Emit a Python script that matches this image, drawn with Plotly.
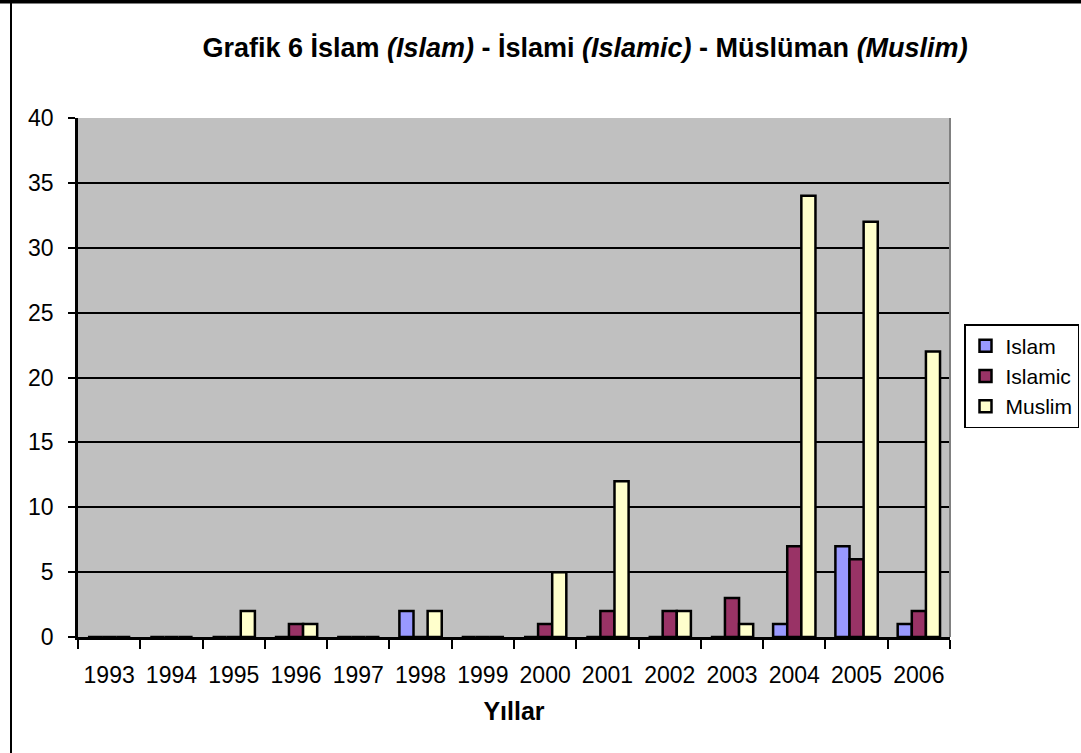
import plotly.graph_objects as go

years = ['1993', '1994', '1995', '1996', '1997', '1998', '1999',
         '2000', '2001', '2002', '2003', '2004', '2005', '2006']
islam = [0, 0, 0, 0, 0, 2, 0, 0, 0, 0, 0, 1, 7, 1]
islamic = [0, 0, 0, 1, 0, 0, 0, 1, 2, 2, 3, 7, 6, 2]
muslim = [0, 0, 2, 1, 0, 2, 0, 5, 12, 2, 1, 34, 32, 22]

W, H = 1081, 753
L, R, T, B = 78, 950, 118, 637


def px(x):
    return (x - L) / (R - L)


def py(y):
    return (B - y) / (B - T)


fig = go.Figure()
for name, vals, col in [('Islam', islam, '#9999FF'),
                        ('Islamic', islamic, '#993366'),
                        ('Muslim', muslim, '#FFFFCC')]:
    fig.add_trace(go.Bar(
        x=years, y=vals, name=name,
        marker=dict(color=col, line=dict(color='black', width=2.5)),
    ))

fig.update_layout(
    width=W, height=H,
    margin=dict(l=L, r=W - R, t=T, b=H - B, autoexpand=False),
    paper_bgcolor='white',
    plot_bgcolor='#C0C0C0',
    barmode='group',
    bargap=0.32,
    bargroupgap=0,
    font=dict(family='Arial, Liberation Sans, sans-serif', color='black'),
    title=dict(
        text='<b>Grafik 6 İslam <i>(Islam)</i> - İslami <i>(Islamic)</i> - '
             'Müslüman <i>(Muslim)</i></b>',
        x=585 / W, xanchor='center', xref='container',
        y=1 - 48 / H, yanchor='middle',
        font=dict(size=27),
    ),
    legend=dict(
        xref='container', yref='container',
        x=964 / W, xanchor='left',
        y=1 - 324 / H, yanchor='top',
        bordercolor='black', borderwidth=1.5,
        bgcolor='white',
        font=dict(size=21),
        itemwidth=30,
        tracegroupgap=2,
    ),
    showlegend=True,
)

fig.update_xaxes(
    showline=True, linecolor='black', linewidth=2.5,
    ticks='outside', tickson='boundaries', ticklen=9, tickwidth=2,
    tickcolor='black', tickfont=dict(size=23), tickangle=0,
    ticklabelstandoff=16, automargin=False,
    title=dict(text='<b>Yıllar</b>', font=dict(size=25), standoff=16),
    showgrid=False,
)
fig.update_yaxes(
    range=[0, 40], dtick=5,
    showline=True, linecolor='black', linewidth=2.5,
    ticks='outside', ticklen=7, tickwidth=2, tickcolor='black',
    tickfont=dict(size=23), ticklabelstandoff=10, automargin=False,
    gridcolor='black', gridwidth=1.5,
    zeroline=False,
)

# outer chart frame (left and top edges)
fig.add_shape(type='line', xref='paper', yref='paper',
              x0=px(11), x1=px(11), y0=py(H + 5), y1=py(0),
              line=dict(color='black', width=2))
fig.add_shape(type='line', xref='paper', yref='paper',
              x0=px(0), x1=px(W), y0=py(1), y1=py(1),
              line=dict(color='black', width=5))
# right edge of plot area
fig.add_shape(type='line', xref='paper', yref='paper',
              x0=1, x1=1, y0=0, y1=1,
              line=dict(color='#808080', width=2))

fig.write_html('out.html', config={'displayModeBar': False},
               post_script="document.body.style.margin='0';")
